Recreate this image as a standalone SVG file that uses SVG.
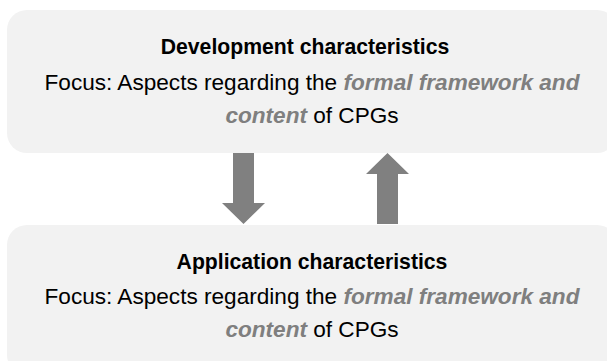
<svg xmlns="http://www.w3.org/2000/svg" width="607" height="361" viewBox="0 0 607 361">
<style>
.box{fill:#f2f2f2;}
.arrow{fill:#808080;}
text{font-family:"Liberation Sans",Arial,sans-serif;fill:#000;text-anchor:middle;}
.title{font-size:21.2px;font-weight:bold;}
.body{font-size:22.6px;}
.em{font-weight:bold;font-style:italic;fill:#7f7f7f;}
</style>
<rect width="607" height="361" fill="#ffffff"/>
<g id="development">
<rect class="box" x="7" y="10" width="610" height="143" rx="20" ry="20"/>
<text class="title" x="305" y="54">Development characteristics</text>
<text class="body" x="312" y="90">Focus: Aspects regarding the <tspan class="em">formal framework and</tspan></text>
<text class="body" x="312" y="123"><tspan class="em">content</tspan> of CPGs</text>
</g>
<g id="application">
<rect class="box" x="7" y="225" width="610" height="150" rx="20" ry="20"/>
<text class="title" x="312" y="269">Application characteristics</text>
<text class="body" x="312" y="304">Focus: Aspects regarding the <tspan class="em">formal framework and</tspan></text>
<text class="body" x="312" y="337"><tspan class="em">content</tspan> of CPGs</text>
</g>
<g id="connectors">
<polygon class="arrow" points="233,153 254,153 254,203 265,203 243.5,224 222,203 233,203"/>
<polygon class="arrow" points="377,224 398,224 398,174 409,174 387.5,153 366,174 377,174"/>
</g>
</svg>
